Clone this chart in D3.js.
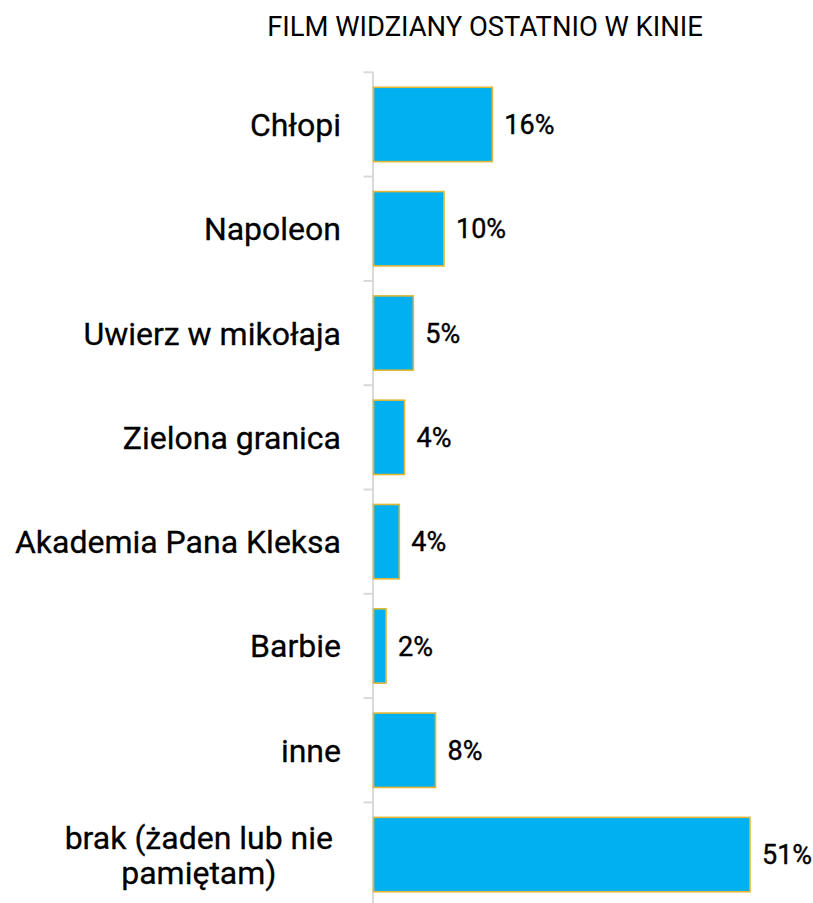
<!DOCTYPE html>
<html>
<head>
<meta charset="utf-8">
<script src="https://cdn.jsdelivr.net/npm/d3@7/dist/d3.min.js"></script>
<style>
  html, body { margin: 0; padding: 0; background: #fff; }
  svg { display: block; }
  text { font-family: Roboto, "Noto Sans", sans-serif; fill: #000; }
</style>
</head>
<body>
<svg id="chart" width="813" height="903"></svg>
<script>
const title = "FILM WIDZIANY OSTATNIO W KINIE";
const categories = [
  "Chłopi",
  "Napoleon",
  "Uwierz w mikołaja",
  "Zielona granica",
  "Akademia Pana Kleksa",
  "Barbie",
  "inne",
  "brak (żaden lub nie pamiętam)"
];
const categoryLines = [
  ["Chłopi"],
  ["Napoleon"],
  ["Uwierz w mikołaja"],
  ["Zielona granica"],
  ["Akademia Pana Kleksa"],
  ["Barbie"],
  ["inne"],
  ["brak (żaden lub nie", "pamiętam)"]
];
const values = [16.1, 9.55, 5.4, 4.2, 3.5, 1.7, 8.4, 51];
const valueLabels = ["16%", "10%", "5%", "4%", "4%", "2%", "8%", "51%"];

const svg = d3.select("#chart");
const axisX = 373.5;

const x = d3.scaleLinear().domain([0, 51]).range([axisX, 750]);
const y = d3.scaleBand().domain(categories).range([72.3, 906.7]).paddingInner(0.287).paddingOuter(0.1435);

// title
svg.append("text")
  .attr("x", 485).attr("y", 36)
  .attr("text-anchor", "middle")
  .style("font-size", "27.4px")
  .style("font-weight", 400)
  .text(title);

// axis line and ticks at band boundaries
const step = y.step();
const r0 = y.range()[0];
const g = svg.append("g");
g.append("line")
  .attr("x1", axisX - 0.5).attr("x2", axisX - 0.5)
  .attr("y1", r0).attr("y2", 903)
  .attr("stroke", "#d9d9d9").attr("stroke-width", 2);
d3.range(categories.length).forEach(i => {
  g.append("line")
    .attr("x1", axisX - 10).attr("x2", axisX)
    .attr("y1", r0 + i * step).attr("y2", r0 + i * step)
    .attr("stroke", "#d9d9d9").attr("stroke-width", 2);
});

// bars
svg.selectAll("rect.bar").data(values).enter().append("rect")
  .attr("class", "bar")
  .attr("x", x(0))
  .attr("y", (d, i) => y(categories[i]))
  .attr("width", d => x(d) - x(0))
  .attr("height", y.bandwidth())
  .attr("fill", "#00b0f0")
  .attr("stroke", "#e3b735")
  .attr("stroke-width", 1.6);

// value labels
svg.selectAll("text.val").data(values).enter().append("text")
  .attr("class", "val")
  .attr("x", d => x(d) + 12)
  .attr("y", (d, i) => y(categories[i]) + y.bandwidth() / 2)
  .attr("dy", "0.36em")
  .style("font-size", "27px")
  .style("font-weight", 400)
  .style("stroke", "#000").style("stroke-width", 0.4)
  .text((d, i) => valueLabels[i]);

// category labels
const labelRight = 341;
const lineH = 35;
const catSize = 32;
categoryLines.forEach((lines, i) => {
  const cy = y(categories[i]) + y.bandwidth() / 2;
  const t = svg.append("text")
    .attr("class", "cat")
    .style("font-size", catSize + "px")
    .style("font-weight", 400)
    .style("stroke", "#000").style("stroke-width", 0.3);
  lines.forEach((ln, j) => {
    t.append("tspan").text(ln)
      .attr("y", cy + (j - (lines.length - 1) / 2) * lineH)
      .attr("dy", "0.36em");
  });
  if (lines.length === 1) {
    t.attr("text-anchor", "end");
    t.selectAll("tspan").attr("x", labelRight);
  } else {
    let maxW = 0;
    t.selectAll("tspan").each(function () { maxW = Math.max(maxW, this.getComputedTextLength()); });
    t.attr("text-anchor", "middle");
    t.selectAll("tspan").attr("x", labelRight - 8 - maxW / 2);
  }
});
</script>
</body>
</html>
